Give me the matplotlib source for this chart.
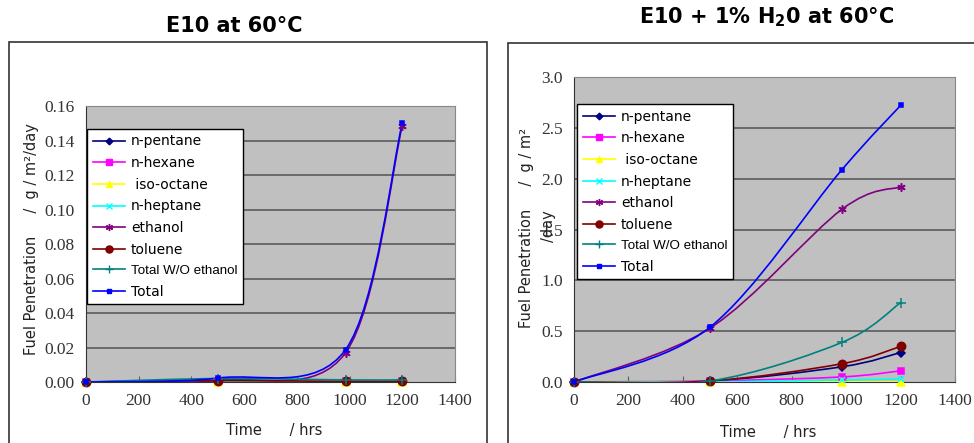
import numpy as np
import matplotlib
matplotlib.use("Agg")
import matplotlib.pyplot as plt
from matplotlib.path import Path
from matplotlib.patches import PathPatch, Rectangle
from matplotlib.lines import Line2D


# sample times (hrs)
hours = [0, 500, 985, 1200]

# E10 at 60C  (g/m2/day)
e10_pentane = [0.0, 0.0005, 0.0003, 0.0003]
e10_hexane = [0.0, 0.0004, 0.0003, 0.0003]
e10_isooctane = [0.0, 0.0002, 0.0002, 0.0002]
e10_heptane = [0.0, 0.0003, 0.0003, 0.0003]
e10_ethanol = [0.0, 0.0010, 0.0170, 0.1485]
e10_toluene = [0.0, 0.0008, 0.0003, 0.0003]
e10_total_wo = [0.0, 0.0020, 0.0012, 0.0012]
e10_total = [0.0, 0.0023, 0.0188, 0.1500]

# E10 + 1% H2O at 60C
h2o_pentane = [0.0, 0.01, 0.15, 0.29]
h2o_hexane = [0.0, 0.01, 0.05, 0.11]
h2o_isooctane = [0.0, 0.0, 0.0, 0.0]
h2o_heptane = [0.0, 0.0, 0.02, 0.03]
h2o_ethanol = [0.0, 0.53, 1.70, 1.92]
h2o_toluene = [0.0, 0.01, 0.18, 0.35]
h2o_total_wo = [0.0, 0.01, 0.39, 0.78]
h2o_total = [0.0, 0.54, 2.09, 2.72]

names = ["n-pentane", "n-hexane", " iso-octane", "n-heptane", "ethanol",
         "toluene", "Total W/O ethanol", "Total"]
colors = ["#000080", "#FF00FF", "#FFFF00", "#00FFFF", "#800080",
          "#800000", "#008080", "#0000FF"]
markers = ["D", "s", "^", "x", (6, 2, 0), "o", "+", "s"]
msizes = [4, 5, 5.5, 5, 6, 6, 6.5, 2.8]


def smooth_path(x, y):
    # excel-like smoothed line: catmull-rom as cubic bezier
    pts = np.column_stack([x, y]).astype(float)
    n = len(pts)
    verts = [pts[0]]
    codes = [Path.MOVETO]
    for i in range(n - 1):
        p0 = pts[i - 1] if i > 0 else pts[i]
        p1 = pts[i]
        p2 = pts[i + 1]
        p3 = pts[i + 2] if i + 2 < n else pts[i + 1]
        c1 = p1 + (p2 - p0) / 6.0
        c2 = p2 - (p3 - p1) / 6.0
        verts += [c1, c2, p2]
        codes += [Path.CURVE4] * 3
    return Path(verts, codes)


fig = plt.figure(figsize=(9.74, 4.43), dpi=100)
W, H = 974.0, 443.0


def px_axes(l, t, r, b):
    return fig.add_axes([l / W, 1 - b / H, (r - l) / W, (b - t) / H])


def draw_panel(ax, series, ymax, ystep, yfmt, leg_anchor):
    ax.set_facecolor("#C0C0C0")
    for ser, c, m, ms in zip(series, colors, markers, msizes):
        ax.add_patch(PathPatch(smooth_path(hours, ser), fill=False,
                               edgecolor=c, lw=1.2, zorder=3))
        ax.plot(hours, ser, linestyle="none", marker=m, color=c,
                markersize=ms, markeredgewidth=1.1, zorder=4, clip_on=False)
    ax.set_xlim(0, 1400)
    ax.set_ylim(0, ymax)
    ax.set_xticks(np.arange(0, 1401, 200))
    yt = np.arange(0, ymax + ystep / 2, ystep)
    ax.set_yticks(yt)
    ax.set_yticklabels([yfmt.format(v) for v in yt])
    for v in yt[1:]:
        ax.axhline(v, color="#626262", lw=1.3, zorder=1)
    ax.tick_params(axis="x", direction="in", length=4, pad=8,
                   labelsize=12.5, color="#606060")
    ax.tick_params(axis="y", length=0, pad=8, labelsize=12.5)
    for lab in ax.get_xticklabels() + ax.get_yticklabels():
        lab.set_fontfamily("Liberation Serif")
        lab.set_color("#333333")
    for s in ["top", "right"]:
        ax.spines[s].set_color("#888888")
    for s in ["left", "bottom"]:
        ax.spines[s].set_color("#333333")
    handles = [Line2D([0], [0], color=c, marker=m, markersize=ms * 0.85,
                      markeredgewidth=1.0, lw=1.2)
               for c, m, ms in zip(colors, markers, msizes)]
    leg = ax.legend(handles, names, loc="upper left", bbox_to_anchor=leg_anchor,
                    frameon=True, fancybox=False, framealpha=1,
                    edgecolor="black", fontsize=10, handlelength=2.3,
                    handletextpad=0.45, labelspacing=0.55, borderpad=0.4,
                    borderaxespad=0)
    leg.get_frame().set_linewidth(1.0)
    leg.get_texts()[6].set_fontfamily("Liberation Sans")
    leg.get_texts()[6].set_fontsize(9.6)
    leg.set_zorder(10)


# outer chart boxes
fig.patches.append(Rectangle((9 / W, -0.05), 478 / W, 1 - 42 / H + 0.05,
                             transform=fig.transFigure, fill=False,
                             edgecolor="#333333", lw=1.2))
fig.patches.append(Rectangle((508 / W, -0.05), 0.6, 1 - 43 / H + 0.05,
                             transform=fig.transFigure, fill=False,
                             edgecolor="#333333", lw=1.2))

ax1 = px_axes(86, 106, 455, 382)
draw_panel(ax1, [e10_pentane, e10_hexane, e10_isooctane, e10_heptane,
                 e10_ethanol, e10_toluene, e10_total_wo, e10_total],
           0.16, 0.02, "{:.2f}", (0.003, 0.917))

ax2 = px_axes(574, 77, 955, 382)
draw_panel(ax2, [h2o_pentane, h2o_hexane, h2o_isooctane, h2o_heptane,
                 h2o_ethanol, h2o_toluene, h2o_total_wo, h2o_total],
           3.0, 0.5, "{:.1f}", (0.008, 0.911))

# titles
fig.text(234 / W, 1 - 26 / H, "E10 at 60°C", ha="center", va="center",
         fontsize=15, fontweight="bold")
fig.text(767 / W, 1 - 17 / H, "E10 + 1% H$_\\mathregular{2}$0 at 60°C",
         ha="center", va="center", fontsize=15, fontweight="bold")

# axis labels
fig.text(274 / W, 1 - 430 / H, "Time      / hrs", ha="center", va="center",
         fontsize=10.5, color="#222222")
fig.text(768 / W, 1 - 432 / H, "Time      / hrs", ha="center", va="center",
         fontsize=10.5, color="#222222")
fig.text(32 / W, 1 - 239 / H, "Fuel Penetration     /  g / m\u00b2/day",
         rotation=90, ha="center", va="center", fontsize=10.5, color="#222222")
fig.text(527 / W, 1 - 228 / H, "Fuel Penetration     /  g / m\u00b2",
         rotation=90, ha="center", va="center", fontsize=10.5, color="#222222")
fig.text(549 / W, 1 - 226 / H, "/day", rotation=90, ha="center", va="center",
         fontsize=10.5, color="#222222")

fig.savefig("out.png", dpi=100)
